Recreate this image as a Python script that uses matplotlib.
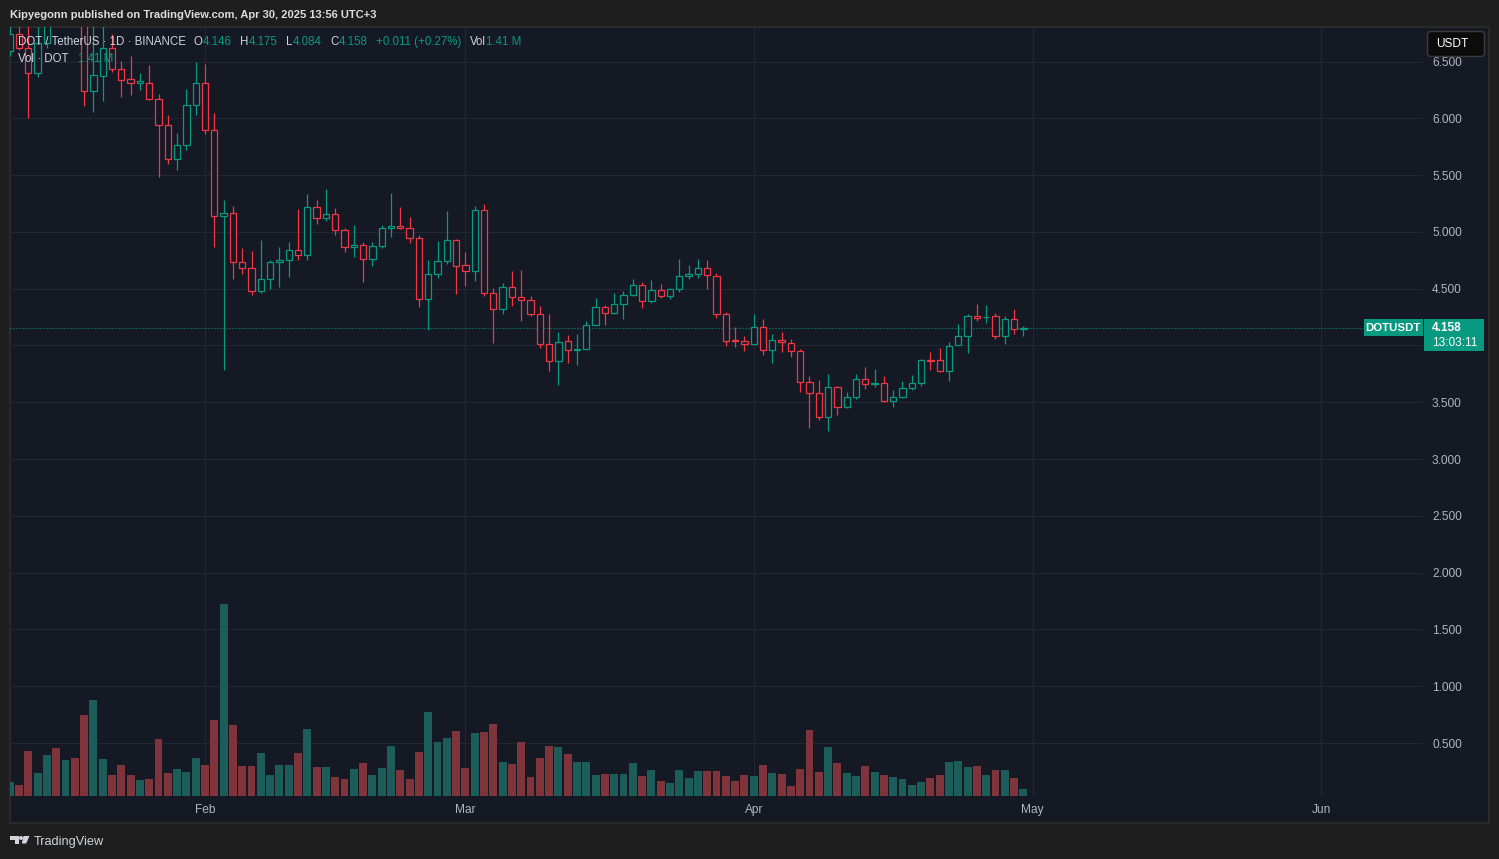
import numpy as np
import pandas as pd
import matplotlib
matplotlib.use('Agg')
import matplotlib.pyplot as plt
import matplotlib.dates as mdates
from matplotlib.patches import Rectangle, FancyBboxPatch, Polygon, Circle
from matplotlib.transforms import IdentityTransform

plt.rcParams['font.family'] = ['Liberation Sans', 'DejaVu Sans']

# daily DOT/USDT candles, Jan 11 .. Apr 30 2025
dates = pd.date_range('2025-01-11', '2025-04-30', freq='D')

opens = [6.59, 6.738, 6.62, 6.395, 6.66, 6.95, 6.85, 7.10, 6.95, 6.244,
         6.374, 6.616, 6.438, 6.345, 6.315, 6.315, 6.174, 5.944, 5.645, 5.762,
         6.121,
         6.315, 5.90, 5.142, 5.165, 4.739, 4.683, 4.48, 4.586, 4.739, 4.754,
         4.842, 4.798, 5.221, 5.124, 5.16, 5.019, 4.869, 4.886, 4.764, 4.877,
         5.036, 5.054, 5.036, 4.948, 4.41, 4.63, 4.748, 4.93,
         4.71, 4.657, 5.195, 4.463, 4.322, 4.516, 4.424, 4.398, 4.274, 4.01,
         3.863, 4.04, 3.96, 3.97, 4.181, 4.34, 4.287, 4.366, 4.445, 4.533,
         4.392, 4.489, 4.436, 4.498, 4.613, 4.63, 4.683, 4.613, 4.278, 4.045,
         4.04,
         4.013, 4.163, 3.96, 4.049, 4.022, 3.952, 3.679, 3.581, 3.37, 3.634,
         3.458, 3.546, 3.705, 3.661, 3.67, 3.511, 3.546, 3.625, 3.669, 3.872,
         3.872, 3.775, 4.005, 4.084, 4.26, 4.25, 4.26, 4.084, 4.234, 4.146]

highs = [6.85, 6.86, 6.83, 6.83, 7.00, 7.05, 7.20, 7.15, 7.00, 6.85,
         6.85, 6.739, 6.503, 6.547, 6.40, 6.467, 6.212, 6.032, 5.874, 6.256,
         6.497,
         6.482, 6.047, 5.277, 5.224, 4.86, 4.836, 4.933, 4.757, 4.871, 4.915,
         5.204, 5.33, 5.277, 5.374, 5.212, 5.036, 5.063, 4.915, 4.907, 5.063,
         5.339, 5.215, 5.127, 4.974, 4.754, 4.924, 5.18, 4.94,
         4.821, 5.227, 5.244, 4.51, 4.548, 4.66, 4.669, 4.44, 4.351, 4.28,
         4.122, 4.095, 4.104, 4.216, 4.419, 4.357, 4.463, 4.48, 4.589, 4.56,
         4.58, 4.545, 4.51, 4.765, 4.713, 4.765, 4.757, 4.64, 4.295, 4.163,
         4.084,
         4.278, 4.234, 4.10, 4.119, 4.057, 3.969, 3.731, 3.696, 3.749, 3.643,
         3.59, 3.749, 3.81, 3.793, 3.731, 3.608, 3.687, 3.74, 3.881, 3.943,
         3.978, 4.031, 4.192, 4.278, 4.366, 4.357, 4.287, 4.263, 4.325, 4.175]

lows = [6.55, 6.60, 6.003, 6.364, 6.62, 6.81, 6.82, 6.82, 6.108, 6.056,
        6.15, 6.41, 6.188, 6.209, 6.247, 6.159, 5.482, 5.60, 5.541, 5.718,
        6.026,
        5.865, 4.865, 3.784, 4.586, 4.63, 4.445, 4.46, 4.495, 4.513, 4.607,
        4.754, 4.754, 5.071, 5.094, 4.974, 4.825, 4.777, 4.557, 4.70, 4.86,
        4.953, 5.027, 4.904, 4.336, 4.137, 4.595, 4.719, 4.454,
        4.521, 4.565, 4.433, 4.019, 4.274, 4.345, 4.213, 4.257, 3.975, 3.772,
        3.648, 3.842, 3.825, 3.965, 4.178, 4.181, 4.28, 4.23, 4.44, 4.327,
        4.37, 4.415, 4.405, 4.469, 4.586, 4.595, 4.498, 4.239, 3.992, 3.983,
        3.948,
        4.01, 3.916, 3.842, 3.94, 3.895, 3.595, 3.278, 3.34, 3.251, 3.384,
        3.449, 3.525, 3.613, 3.631, 3.505, 3.463, 3.54, 3.61, 3.64, 3.781,
        3.77, 3.687, 4.00, 3.934, 4.216, 4.199, 4.057, 4.013, 4.101, 4.084]

closes = [6.74, 6.62, 6.395, 6.66, 6.95, 6.85, 7.10, 6.95, 6.244, 6.379,
          6.616, 6.438, 6.341, 6.315, 6.325, 6.174, 5.944, 5.645, 5.762, 6.121,
          6.315,
          5.90, 5.142, 5.165, 4.739, 4.683, 4.483, 4.586, 4.739, 4.757, 4.842,
          4.798, 5.221, 5.124, 5.16, 5.019, 4.869, 4.886, 4.764, 4.877, 5.036,
          5.054, 5.036, 4.948, 4.41, 4.63, 4.748, 4.93, 4.70,
          4.657, 5.195, 4.463, 4.322, 4.516, 4.424, 4.398, 4.274, 4.01, 3.863,
          4.031, 3.96, 3.97, 4.181, 4.34, 4.287, 4.366, 4.445, 4.533, 4.392,
          4.489, 4.436, 4.498, 4.613, 4.63, 4.683, 4.622, 4.278, 4.04, 4.04,
          4.013,
          4.163, 3.96, 4.049, 4.031, 3.952, 3.679, 3.581, 3.37, 3.634, 3.458,
          3.546, 3.705, 3.661, 3.67, 3.511, 3.546, 3.625, 3.669, 3.872, 3.866,
          3.775, 3.996, 4.084, 4.26, 4.243, 4.255, 4.084, 4.234, 4.147, 4.158]

# volume, millions of DOT
volumes = [2.8, 2.2, 9.1, 4.6, 8.3, 9.7, 7.3, 7.7, 16.3, 19.3,
           7.5, 4.2, 6.2, 4.2, 3.2, 3.4, 11.5, 4.6, 5.4, 4.8,
           7.7,
           6.2, 15.3, 38.7, 14.3, 6.0, 6.0, 8.7, 4.2, 6.2, 6.2,
           8.7, 13.5, 5.8, 5.8, 3.8, 3.4, 5.4, 6.6, 4.2, 5.6,
           10.1, 5.2, 3.4, 8.9, 16.9, 10.9, 11.7, 13.1,
           5.6, 12.7, 12.9, 14.5, 6.8, 6.4, 10.9, 3.8, 7.7, 10.1,
           9.9, 8.5, 6.8, 6.8, 4.2, 4.4, 4.4, 4.4, 6.6, 4.0,
           5.2, 3.0, 2.6, 5.2, 3.6, 5.0, 5.0, 5.0, 4.0, 3.0,
           4.2,
           4.0, 6.2, 4.6, 4.4, 2.0, 5.4, 13.3, 4.8, 9.9, 6.6,
           4.6, 4.0, 6.0, 4.8, 4.2, 3.8, 3.4, 2.2, 2.8, 3.6,
           4.2, 6.8, 7.0, 5.8, 6.0, 4.2, 5.2, 5.2, 3.6, 1.41]

month_ticks = pd.to_datetime(['2025-02-01', '2025-03-01', '2025-04-01',
                              '2025-05-01', '2025-06-01'])
month_labels = ['Feb', 'Mar', 'Apr', 'May', 'Jun']
price_ticks = np.arange(0.5, 6.51, 0.5)

BG = '#1e1e1e'
PANE = '#151924'
GRID = '#232733'
TXT = '#b2b5be'
LIGHT = '#d1d4dc'
UP = '#089981'
DOWN = '#f23645'
UP_VOL = '#1c5d5a'
DOWN_VOL = '#7f333b'

W, H = 1499, 859
fig = plt.figure(figsize=(W / 100, H / 100), dpi=100, facecolor=BG)
PIX = IdentityTransform()
rend = fig.canvas.get_renderer()


def px_rect(x0, y0, x1, y1, **kw):
    # rectangle in image pixels, top-left origin
    return Rectangle((x0, H - y1), x1 - x0, y1 - y0, transform=PIX, **kw)


def px_text(x, y, s, **kw):
    return fig.text(x / W, 1 - y / H, s, va='center', **kw)


def chain(items, x0, y, size):
    # place text pieces one after another, each (text, colour, gap after)
    xx = x0
    for s, col, gap in items:
        t = px_text(xx, y, s, ha='left', color=col, fontsize=size, zorder=6)
        xx = t.get_window_extent(rend).x1 + gap


# chart pane
fig.add_artist(px_rect(10, 27, 1489, 823, facecolor=PANE, edgecolor='#2a2a2a',
                       lw=1.5, zorder=-5))

ax = fig.add_axes([10 / W, 1 - 796 / H, 1413 / W, 769 / H])
ax.set_facecolor('none')
axv = ax.twinx()
ax.yaxis.tick_right()

x = mdates.date2num(dates)
feb1 = mdates.date2num(pd.Timestamp('2025-02-01'))
day_px = 9.30
ax.set_xlim(feb1 - 195 / day_px, feb1 + 1218 / day_px)
ax.set_ylim(6 - (796 - 118.3) / 113.6, 6 + (118.3 - 27) / 113.6)
axv.set_ylim(0, 769 * 0.2014)
axv.axis('off')

last = closes[-1]

# grid + ticks (the 4.000 label sits under the last-price tag)
ax.set_yticks(price_ticks)
ax.set_yticklabels(['' if abs(v - last) < 0.25 else f'{v:.3f}' for v in price_ticks])
ax.set_xticks(mdates.date2num(month_ticks))
ax.set_xticklabels(month_labels)
ax.tick_params(axis='y', length=0, pad=6.5, labelsize=8.6, colors=TXT)
ax.tick_params(axis='x', length=0, pad=5.5, labelsize=8.6, colors=TXT)
ax.grid(True, color=GRID, lw=0.8)
ax.set_axisbelow(True)
for s in ax.spines.values():
    s.set_visible(False)

# candles (hollow bodies)
for xi, o, h, l, c in zip(x, opens, highs, lows, closes):
    col = UP if c >= o else DOWN
    lo_b, hi_b = min(o, c), max(o, c)
    ax.vlines(xi, hi_b, h, color=col, lw=0.9, zorder=3)
    ax.vlines(xi, l, lo_b, color=col, lw=0.9, zorder=3)
    ax.add_patch(Rectangle((xi - 0.34, lo_b), 0.68, max(hi_b - lo_b, 0.003),
                           facecolor=PANE, edgecolor=col, lw=0.9, zorder=4))

vol_cols = [UP_VOL if c >= o else DOWN_VOL for o, c in zip(opens, closes)]
axv.bar(x, volumes, width=0.85, color=vol_cols, linewidth=0)

# last price line and labels
ax.axhline(last, color=UP, lw=0.9, ls=(0, (0.8, 1.6)), zorder=2)
y_last = H - ax.transData.transform((x[0], last))[1]
fig.add_artist(px_rect(1364, y_last - 8.5, 1422.7, y_last + 8.5, facecolor=UP,
                       lw=0, zorder=5))
fig.add_artist(px_rect(1424, y_last - 8.5, 1484, y_last + 23, facecolor=UP,
                       lw=0, zorder=5))
px_text(1393, y_last, 'DOTUSDT', ha='center', color='white', fontsize=8.2,
        fontweight='bold', zorder=6)
px_text(1432, y_last, f'{last:.3f}', ha='left', color='white', fontsize=8.6,
        fontweight='bold', zorder=6)
px_text(1432, y_last + 15, '13:03:11', ha='left', color='white', fontsize=8.6,
        zorder=6)

# currency button
fig.add_artist(FancyBboxPatch((1427.5, H - 56.5), 57, 25, transform=PIX,
                              boxstyle='round,pad=0,rounding_size=4',
                              facecolor='#0c0c0c', edgecolor='#3a3a3a', lw=1,
                              zorder=5))
px_text(1436, 44, 'USDT', ha='left', color='white', fontsize=8.6, zorder=6)

# header
px_text(10, 14.5, 'Kipyegonn published on TradingView.com, Apr 30, 2025 13:56 UTC+3',
        ha='left', color='#dedede', fontsize=8.0, fontweight='bold')

chg = closes[-1] - closes[-2]
pct = chg / closes[-2] * 100
chain([('DOT / TetherUS · 1D · BINANCE', LIGHT, 7.5),
       ('O', LIGHT, 0.5), (f'{opens[-1]:.3f}', UP, 8),
       ('H', LIGHT, 0.5), (f'{highs[-1]:.3f}', UP, 8),
       ('L', LIGHT, 0.5), (f'{lows[-1]:.3f}', UP, 8),
       ('C', LIGHT, 0.5), (f'{closes[-1]:.3f}', UP, 8.5),
       (f'{chg:+.3f} ({pct:+.2f}%)', UP, 8.5),
       ('Vol', LIGHT, 0.5), (f'{volumes[-1]:.2f} M', UP, 0)], 18.3, 41.7, 8.3)
chain([('Vol · DOT', LIGHT, 9), (f'{volumes[-1]:.2f} M', UP, 0)], 18.3, 59, 8.3)

# footer logo
logo = '#d1d4dc'
fig.add_artist(px_rect(10, 836, 18.5, 840, facecolor=logo, lw=0))
fig.add_artist(px_rect(14.5, 836, 18.5, 843.5, facecolor=logo, lw=0))
fig.add_artist(Circle((21, H - 838), 2.0, transform=PIX, facecolor=logo, lw=0))
fig.add_artist(Polygon([(23.5, H - 836), (29.5, H - 836), (26.2, H - 843.5),
                        (21.8, H - 843.5)], closed=True, transform=PIX,
                       facecolor=logo, lw=0))
px_text(33.3, 841.5, 'TradingView', ha='left', color=logo, fontsize=9.2)

fig.savefig('out.png', dpi=100, facecolor=BG)
